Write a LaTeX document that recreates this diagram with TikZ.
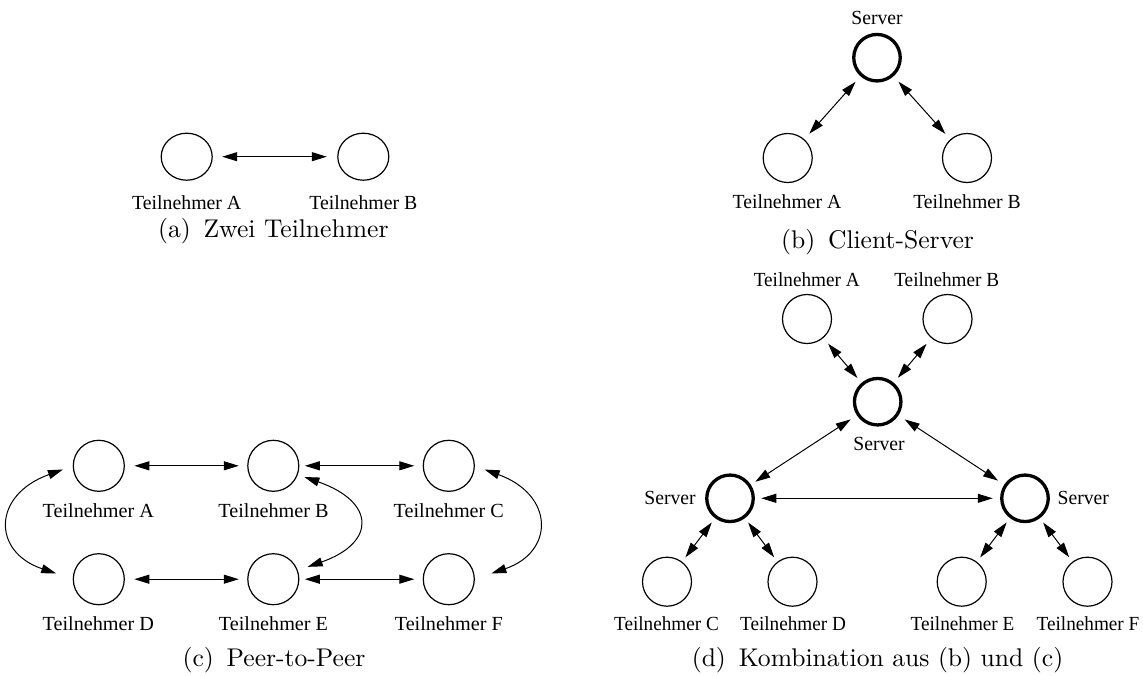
\documentclass[tikz,border=0pt]{standalone}
\usepackage{fontspec}
\newfontfamily\timesfont{Liberation Serif}
\usetikzlibrary{arrows.meta,shapes.geometric}

% horizontally adjusted label text
\newcommand{\lbl}[2][1]{\scalebox{#1}[1]{#2}}
\newcommand{\subcap}[1]{\scalebox{2.56}{#1}}

\tikzset{
  peer/.style={ellipse, draw, line width=1.2pt, minimum width=49pt,
    minimum height=49pt, inner sep=0pt, outer sep=0pt},
  server/.style={peer, line width=3.3pt, minimum width=46.5pt,
    minimum height=46.5pt},
  lab/.style={anchor=base, inner sep=0pt,
    font=\timesfont\fontsize{20}{22}\selectfont},
  subcaption/.style={anchor=base, inner sep=0pt,
    font=\rmfamily\fontsize{10}{12}\selectfont},
  arrtip/.tip={Triangle[length=15pt,width=9pt]},
  link/.style={line width=1pt, arrtip-arrtip},
}

\begin{document}
\begin{tikzpicture}[x=1pt,y=-1pt]
\useasboundingbox (0,0) rectangle (1143,675);

% ---------- (a) two participants ----------
\node[peer, minimum width=51pt, minimum height=47pt] (a1) at (186.7,156.7) {};
\node[peer, minimum width=51pt, minimum height=47pt] (a2) at (363.3,156.7) {};
\draw[link, shorten <=10pt, shorten >=11pt] (a1) -- (a2);
\node[lab] (a1l) at (186.7,209) {\lbl[0.99]{Teilnehmer A}};
\node[lab] (a2l) at (363.3,209) {\lbl[0.99]{Teilnehmer B}};
\node[subcaption] (acap) at (273.3,237) {\subcap{(a)\hspace{0.5em}Zwei Teilnehmer}};

% ---------- (b) client-server ----------
\node[server] (bs) at (877,57.7) {};
\node[peer] (b1) at (787.7,158) {};
\node[peer] (b2) at (967,158) {};
\node[lab] (bsl) at (877,24) {\lbl[0.98]{Server}};
\draw[link, shorten <=8pt, shorten >=9pt] (b1) -- (bs);
\draw[link, shorten <=9pt, shorten >=8pt] (bs) -- (b2);
\node[lab] (b1l) at (787,208.3) {\lbl[0.985]{Teilnehmer A}};
\node[lab] (b2l) at (967,208.3) {\lbl[0.985]{Teilnehmer B}};
\node[subcaption] (bcap) at (877.5,248.3) {\subcap{(b)\hspace{0.5em}Client-Server}};

% ---------- (c) peer-to-peer ----------
\node[peer, minimum width=51pt, minimum height=51pt] (cA) at (98.8,465.8) {};
\node[peer, minimum width=51pt, minimum height=51pt] (cB) at (273.3,465.8) {};
\node[peer, minimum width=51pt, minimum height=51pt] (cC) at (448.8,465.8) {};
\node[peer, minimum width=51pt, minimum height=51pt] (cD) at (98.8,579.2) {};
\node[peer, minimum width=51pt, minimum height=51pt] (cE) at (273.3,579.2) {};
\node[peer, minimum width=51pt, minimum height=51pt] (cF) at (448.8,579.2) {};
\draw[link, shorten <=10pt, shorten >=9pt] (cA) -- (cB);
\draw[link, shorten <=6pt, shorten >=9pt] (cB) -- (cC);
\draw[link, shorten <=10pt, shorten >=9pt] (cD) -- (cE);
\draw[link, shorten <=6pt, shorten >=9pt] (cE) -- (cF);
\draw[link, shorten <=11pt, shorten >=18pt]
  (cA.west) .. controls (-8,495) and (-8,552) .. (cD.west);
\draw[link, shorten <=7.5pt, shorten >=11pt]
  (cB.-20) .. controls (376,502) and (376,543) .. (cE.20);
\draw[link, shorten <=11pt, shorten >=18pt]
  (cC.east) .. controls (554.6,495) and (554.6,552) .. (cF.east);
\node[lab] (cAl) at (98.3,517.3) {\lbl[1.01]{Teilnehmer A}};
\node[lab] (cBl) at (273.5,517.3) {\lbl[1.01]{Teilnehmer B}};
\node[lab] (cCl) at (448.8,517.3) {\lbl[1.01]{Teilnehmer C}};
\node[lab] (cDl) at (98.3,630) {\lbl[1.01]{Teilnehmer D}};
\node[lab] (cEl) at (273.5,630) {\lbl[1.01]{Teilnehmer E}};
\node[lab] (cFl) at (448.8,630) {\lbl[1.01]{Teilnehmer F}};
\node[subcaption] (ccap) at (274,666.7) {\subcap{(c)\hspace{0.5em}Peer-to-Peer}};

% ---------- (d) combination ----------
\node[server] (dS) at (877.7,401.7) {};
\node[server] (dL) at (730,498.3) {};
\node[server] (dR) at (1025,498.3) {};
\node[peer] (dA) at (807,319) {};
\node[peer] (dB) at (947.5,319) {};
\node[peer] (dC) at (667,581.7) {};
\node[peer] (dD) at (792.5,581.7) {};
\node[peer] (dE) at (961.7,581.7) {};
\node[peer] (dF) at (1087.5,581.7) {};
\draw[link, shorten <=8pt, shorten >=8pt] (dA) -- (dS);
\draw[link, shorten <=8pt, shorten >=8pt] (dB) -- (dS);
\draw[link, shorten <=9pt, shorten >=7pt] (dS) -- (dL);
\draw[link, shorten <=9pt, shorten >=9pt] (dS) -- (dR);
\draw[link, shorten <=8pt, shorten >=9pt] (dL) -- (dR);
\draw[link, shorten <=7pt, shorten >=6pt] (dL) -- (dC);
\draw[link, shorten <=7pt, shorten >=6pt] (dL) -- (dD);
\draw[link, shorten <=7pt, shorten >=6pt] (dR) -- (dE);
\draw[link, shorten <=7pt, shorten >=6pt] (dR) -- (dF);
\node[lab] (dAl) at (806.7,286.7) {\lbl[0.96]{Teilnehmer A}};
\node[lab] (dBl) at (946.7,286.7) {\lbl[0.96]{Teilnehmer B}};
\node[lab] (dSl) at (879,450) {\lbl[0.98]{Server}};
\node[lab] (dLl) at (670,504.3) {\lbl[0.98]{Server}};
\node[lab] (dRl) at (1083.3,504.3) {\lbl[0.98]{Server}};
\node[lab] (dCl) at (666.5,630) {\lbl[0.96]{Teilnehmer C}};
\node[lab] (dDl) at (793,630) {\lbl[0.96]{Teilnehmer D}};
\node[lab] (dEl) at (962.5,630) {\lbl[0.96]{Teilnehmer E}};
\node[lab] (dFl) at (1088,630) {\lbl[0.96]{Teilnehmer F}};
\node[subcaption] (dcap) at (877.5,666.7)
  {\subcap{(d)\hspace{0.5em}Kombination aus (b) und (c)}};
\end{tikzpicture}
\end{document}
